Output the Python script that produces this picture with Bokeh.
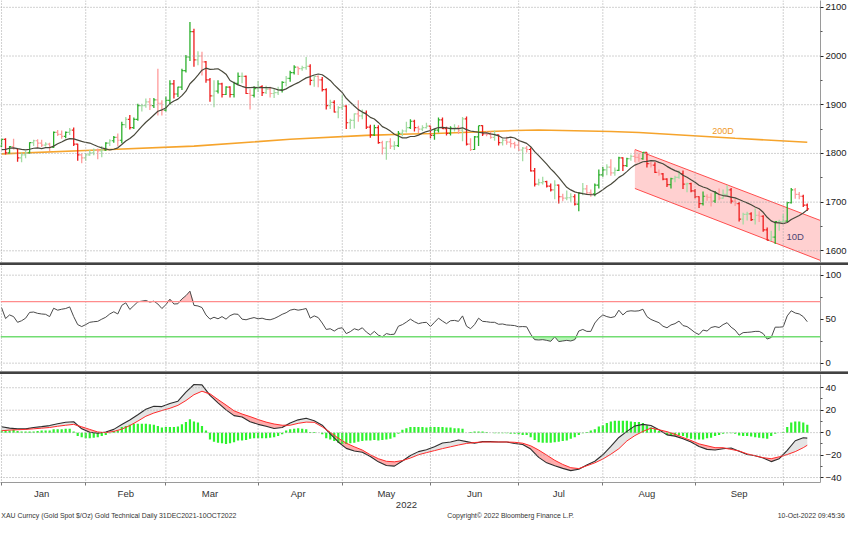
import numpy as np
import pandas as pd
from bokeh.plotting import figure
from bokeh.layouts import column
from bokeh.models import Range1d, FixedTicker, LinearAxis, Span, Grid, Div
from bokeh.embed import file_html
from bokeh.resources import INLINE
from bokeh.core.properties import value

FONT = "Liberation Sans"

# ---------------- data ----------------
dates = pd.bdate_range("2021-12-31", "2022-10-10")   # trading days (Dec 31 = day 0)

opens = [1815,
 1829, 1801, 1814, 1810, 1791, 1797, 1801, 1822, 1826, 1821, 1817, 1819, 1813, 1843, 1839, 1835, 1843, 1848, 1819, 1797, 1791,
 1797, 1801, 1807, 1805, 1807, 1821, 1826, 1833, 1827, 1859, 1870, 1853, 1870, 1898, 1898, 1906, 1898, 1910, 1903, 1889,
 1909, 1943, 1922, 1936, 1970, 1998, 2050, 1992, 2000, 1988, 1951, 1918, 1928, 1943, 1921, 1936, 1921, 1944, 1958, 1958, 1923, 1919, 1933,
 1937, 1925, 1932, 1923, 1925, 1931, 1946, 1954, 1966, 1977, 1974, 1976, 1979, 1950, 1958, 1951, 1931, 1898, 1905, 1885, 1894,
 1897, 1863, 1868, 1881, 1877, 1883, 1854, 1838, 1853, 1822, 1811, 1824, 1815, 1816, 1841, 1846, 1853, 1866, 1853, 1850, 1853, 1856,
 1837, 1848, 1869, 1851, 1841, 1852, 1853, 1848, 1871, 1819, 1808, 1834, 1857, 1840, 1839, 1833, 1838, 1822, 1827, 1823, 1820, 1817,
 1807, 1811, 1808, 1764, 1737, 1740, 1742, 1733, 1725, 1735, 1711, 1708, 1709, 1711, 1696, 1718, 1727, 1719, 1717, 1735, 1756,
 1766, 1772, 1760, 1765, 1791, 1775, 1789, 1794, 1792, 1789, 1802, 1779, 1776, 1761, 1758, 1747, 1736, 1748, 1751, 1758, 1737, 1738, 1723,
 1711, 1697, 1712, 1710, 1702, 1718, 1708, 1716, 1725, 1702, 1697, 1665, 1675, 1676, 1664, 1673, 1671, 1643, 1622, 1628, 1660, 1660,
 1661, 1699, 1725, 1716, 1712, 1694]

highs = [1830,
 1831, 1815, 1830, 1810, 1802, 1805, 1823, 1828, 1829, 1828, 1823, 1822, 1845, 1848, 1847, 1845, 1852, 1853, 1820, 1800, 1801,
 1807, 1810, 1810, 1815, 1823, 1829, 1836, 1841, 1865, 1875, 1879, 1874, 1902, 1902, 1913, 1914, 1914, 1974, 1909, 1917,
 1950, 1951, 1937, 1974, 2002, 2070, 2056, 2010, 2009, 1990, 1955, 1950, 1950, 1945, 1938, 1938, 1947, 1966, 1966, 1960, 1932, 1938, 1949,
 1940, 1939, 1937, 1933, 1937, 1948, 1959, 1970, 1981, 1978, 1980, 1998, 1983, 1959, 1960, 1957, 1934, 1910, 1909, 1897, 1920,
 1899, 1871, 1882, 1909, 1890, 1888, 1859, 1859, 1858, 1826, 1825, 1831, 1825, 1846, 1849, 1865, 1870, 1869, 1857, 1858, 1863, 1857,
 1850, 1874, 1874, 1855, 1856, 1860, 1858, 1875, 1876, 1831, 1836, 1857, 1858, 1846, 1845, 1847, 1839, 1830, 1834, 1830, 1824, 1829,
 1813, 1815, 1812, 1770, 1748, 1752, 1744, 1738, 1745, 1736, 1717, 1724, 1718, 1716, 1721, 1739, 1735, 1726, 1738, 1767, 1772,
 1778, 1788, 1771, 1793, 1792, 1791, 1798, 1807, 1800, 1803, 1802, 1783, 1782, 1767, 1760, 1749, 1750, 1754, 1765, 1765, 1740, 1740, 1727,
 1712, 1722, 1716, 1718, 1723, 1728, 1726, 1735, 1729, 1707, 1700, 1678, 1680, 1679, 1687, 1681, 1673, 1648, 1641, 1661, 1664, 1675,
 1701, 1729, 1729, 1721, 1715, 1697]

lows = [1813,
 1798, 1799, 1808, 1783, 1782, 1790, 1800, 1815, 1811, 1813, 1814, 1805, 1811, 1836, 1830, 1831, 1838, 1815, 1785, 1780, 1785,
 1795, 1796, 1788, 1792, 1805, 1815, 1822, 1814, 1821, 1852, 1849, 1850, 1867, 1886, 1894, 1889, 1893, 1878, 1878, 1886,
 1900, 1913, 1916, 1930, 1966, 1990, 1978, 1981, 1960, 1945, 1906, 1895, 1923, 1915, 1920, 1915, 1915, 1941, 1944, 1922, 1890, 1915, 1926,
 1918, 1922, 1915, 1914, 1920, 1925, 1938, 1947, 1962, 1961, 1970, 1972, 1940, 1937, 1936, 1927, 1890, 1891, 1884, 1872, 1889,
 1850, 1850, 1851, 1865, 1870, 1850, 1832, 1836, 1820, 1798, 1787, 1809, 1807, 1813, 1835, 1843, 1850, 1845, 1842, 1846, 1851, 1831,
 1828, 1843, 1850, 1837, 1837, 1845, 1840, 1825, 1816, 1805, 1807, 1815, 1836, 1835, 1830, 1826, 1816, 1816, 1818, 1812, 1810, 1805,
 1784, 1802, 1763, 1732, 1734, 1736, 1730, 1722, 1706, 1697, 1702, 1704, 1701, 1693, 1681, 1714, 1716, 1711, 1712, 1728, 1752,
 1755, 1754, 1754, 1764, 1764, 1772, 1785, 1782, 1783, 1787, 1771, 1771, 1760, 1754, 1745, 1731, 1728, 1741, 1748, 1727, 1720, 1720, 1708,
 1688, 1693, 1703, 1691, 1698, 1704, 1707, 1713, 1697, 1692, 1660, 1654, 1662, 1661, 1654, 1659, 1639, 1621, 1620, 1614, 1641, 1656,
 1659, 1697, 1707, 1706, 1690, 1682]

closes = [1829,
 1801, 1814, 1810, 1791, 1797, 1801, 1822, 1826, 1821, 1817, 1819, 1813, 1843, 1839, 1835, 1843, 1848, 1819, 1797, 1791, 1797,
 1801, 1807, 1805, 1807, 1821, 1826, 1833, 1827, 1859, 1870, 1853, 1870, 1898, 1898, 1906, 1898, 1910, 1903, 1889, 1909,
 1943, 1922, 1936, 1970, 1998, 2050, 1992, 2000, 1988, 1951, 1918, 1928, 1943, 1921, 1936, 1921, 1944, 1958, 1958, 1923, 1919, 1933, 1937,
 1925, 1932, 1923, 1925, 1931, 1946, 1954, 1966, 1977, 1974, 1976, 1979, 1950, 1958, 1951, 1931, 1898, 1905, 1885, 1894, 1897,
 1863, 1868, 1881, 1877, 1883, 1854, 1838, 1853, 1822, 1811, 1824, 1815, 1816, 1841, 1846, 1853, 1866, 1853, 1850, 1853, 1856, 1837,
 1848, 1869, 1851, 1841, 1852, 1853, 1848, 1871, 1819, 1808, 1834, 1857, 1840, 1839, 1833, 1838, 1822, 1827, 1823, 1820, 1817, 1807,
 1811, 1808, 1764, 1737, 1740, 1742, 1733, 1725, 1735, 1711, 1708, 1709, 1711, 1696, 1718, 1727, 1719, 1717, 1735, 1756, 1766,
 1772, 1760, 1765, 1791, 1775, 1789, 1794, 1792, 1789, 1802, 1779, 1776, 1761, 1758, 1747, 1736, 1748, 1751, 1758, 1737, 1738, 1723, 1711,
 1697, 1712, 1710, 1702, 1718, 1708, 1716, 1725, 1702, 1697, 1665, 1675, 1676, 1664, 1673, 1671, 1643, 1622, 1628, 1660, 1660, 1661,
 1699, 1725, 1716, 1712, 1694, 1686]

# closes of the 9 sessions before Dec 31 (warm-up of the 10-day average)
prior_closes = [1795, 1789, 1803, 1808, 1811, 1811, 1810, 1805, 1815]

# 200-day moving average
ma200_day = [0, 24, 48, 72, 91, 102, 108, 128, 134, 152, 159, 183, 201]
ma200_val = [1799, 1807, 1815, 1829, 1837, 1840, 1841, 1847, 1848, 1845, 1843, 1831, 1823]

# drawn down-trend channel
channel_day = [158, 205]
channel_top = [1808, 1660]
channel_bottom = [1728, 1578]

rsi_values = [
 63.2, 50.7, 54.8, 52.9, 46.4, 48.2, 51.1, 57.7, 58.1, 56.6,
 55.9, 55.5, 52.9, 62.4, 60.2, 61.3, 62.1, 63.9, 52.9, 43.8,
 41.6, 43.8, 46.4, 47.1, 47.5, 50.0, 52.2, 55.9, 58.4, 55.9,
 65.7, 68.6, 61.0, 65.4, 69.7, 70.5, 71.2, 69.4, 70.5, 67.2,
 62.1, 66.4, 72.7, 67.2, 67.5, 73.0, 76.7, 81.8, 65.7, 65.0,
 63.2, 54.8, 50.0, 52.2, 50.4, 52.9, 50.0, 54.0, 55.9, 55.5,
 50.0, 49.3, 50.7, 51.8, 50.4, 51.1, 49.7, 49.3, 50.7, 52.9,
 55.5, 57.3, 60.2, 61.3, 60.2, 61.0, 62.1, 51.1, 53.7, 51.8,
 45.6, 38.3, 39.1, 36.5, 39.4, 40.2, 33.6, 35.8, 39.1, 37.6,
 40.2, 35.4, 32.1, 36.1, 31.8, 29.9, 33.6, 32.5, 32.9, 42.0,
 43.8, 46.7, 50.0, 47.1, 44.9, 46.0, 46.4, 41.6, 46.4, 51.1,
 47.8, 44.9, 48.2, 48.6, 47.5, 53.7, 42.0, 39.1, 43.8, 51.1,
 47.5, 47.1, 46.4, 46.4, 44.2, 44.5, 43.4, 43.1, 42.7, 41.3,
 41.6, 41.3, 32.9, 26.7, 26.3, 26.7, 25.9, 24.8, 29.9, 24.5,
 25.2, 25.9, 25.2, 26.7, 36.5, 38.3, 36.1, 36.1, 45.6, 51.1,
 54.8, 52.9, 51.8, 52.9, 60.2, 54.8, 58.8, 59.5, 59.1, 59.5,
 61.3, 52.9, 49.7, 47.8, 46.0, 42.0, 40.2, 43.4, 44.9, 47.8,
 42.7, 41.6, 38.3, 34.7, 32.5, 37.6, 36.5, 40.5, 41.6, 40.5,
 43.8, 46.0, 40.9, 37.6, 31.8, 34.7, 35.0, 35.4, 36.1, 36.1,
 33.6, 27.4, 29.2, 40.9, 40.9, 41.3, 53.7, 59.5, 57.0, 55.9,
 52.9, 47.1]

macd_day = list(range(0, 201, 2)) + [201]
macd_values = [
 5.2, 4.0, 3.4, 3.4, 4.6, 5.4, 6.3, 8.0, 9.2, 9.7,
 3.4, 0.3, -0.6, 0.6, 2.9, 7.2, 11.2, 16.0, 20.9, 23.5,
 23.2, 26.0, 28.0, 36.1, 42.9, 42.6, 33.2, 26.6, 20.3, 15.2,
 14.0, 9.7, 7.4, 5.7, 3.7, 4.6, 8.6, 11.4, 12.9, 10.6,
 6.6, -1.1, -8.3, -14.0, -16.3, -17.5, -21.2, -26.0, -29.2, -29.8,
 -25.2, -20.3, -16.9, -15.2, -12.6, -9.2, -8.3, -6.6, -8.0, -9.4,
 -8.0, -8.0, -8.3, -8.3, -9.7, -10.6, -14.6, -22.0, -26.9, -29.5,
 -31.8, -33.8, -32.6, -28.9, -25.5, -19.7, -12.3, -4.3, 1.1, 6.0,
 7.4, 6.3, 2.6, -2.0, -3.1, -5.4, -8.3, -12.3, -14.9, -15.5,
 -14.3, -13.7, -16.6, -19.5, -20.6, -22.6, -25.8, -23.2, -15.7, -7.2,
 -4.6, -4.9]
signal_values = [
 1.7, 2.3, 2.6, 2.9, 3.4, 4.0, 4.6, 5.7, 6.6, 7.4,
 5.2, 2.9, 0.6, 0.0, 1.1, 3.1, 6.3, 10.3, 14.6, 17.5,
 19.7, 21.7, 24.3, 28.6, 33.8, 36.9, 34.6, 29.5, 24.6, 19.5,
 16.6, 14.3, 11.7, 9.4, 7.7, 6.6, 6.6, 8.3, 9.4, 9.2,
 5.2, 0.3, -4.9, -9.4, -12.6, -15.5, -19.7, -23.2, -25.5, -26.0,
 -24.9, -22.6, -19.7, -17.8, -16.0, -14.2, -12.6, -11.0, -9.6, -8.8,
 -8.3, -8.3, -8.3, -8.3, -8.6, -9.4, -11.7, -15.5, -20.0, -24.6,
 -28.3, -31.2, -32.0, -29.5, -26.9, -23.5, -19.2, -14.3, -7.4, -2.6,
 1.1, 4.0, 2.6, 0.9, -1.4, -4.3, -7.0, -10.0, -11.7, -13.4,
 -13.4, -14.9, -16.3, -18.9, -20.6, -22.3, -23.2, -21.5, -19.5, -16.9,
 -13.4, -11.2]
hist_values = [
 2, 2, 2, 2.5, 1.5, 1, 1, 1, 1, 1.5,
 2, 2, 2, 3, 3, 3, 3.5, 3.5, 1, -3,
 -4, -5, -5, -4.5, -4, -3, -2, -0.5, 1.5, 2,
 5, 6, 7, 8, 8, 8, 8, 7.5, 7, 6,
 4.5, 5, 5, 5, 5.5, 7.5, 9.5, 12, 10, 9,
 6, 2, -6, -8, -9, -9.5, -10, -9.5, -8.5, -7,
 -7, -6.5, -5.5, -5, -5, -5, -5, -4.5, -4, -3,
 -1.5, 2, 3, 3.5, 4, 3.5, 3, 0.5, 0.5, 0,
 -1.5, -5, -6, -7.5, -9, -10, -10, -9.5, -9, -8,
 -7.5, -7, -7, -6.5, -7, -6.5, -6, -5.5, -4, -1,
 2.5, 4, 5, 5, 5, 5, 4.5, 5, 5, 5,
 5, 4.5, 4.5, 4, 4, 3.5, 0, 0.5, 1, 1,
 1, 0.5, 0, -0.5, -0.5, -0.5, -0.5, -1, -1, -1.5,
 -2, -2, -4, -6.5, -8.5, -9, -9, -9, -8.5, -8,
 -7.5, -7, -5.5, -4, -2, -0.5, 0.5, 2, 3, 5.5,
 6.5, 8.5, 10, 10.5, 10.5, 10.5, 10.5, 10, 9.5, 9.5,
 8.5, 6.5, 4.5, 3.5, 1.5, 0, -2, -3, -2.5, -2.5,
 -3, -4.5, -5.5, -6, -6, -6, -5, -4.5, -3, -2,
 -1, -0.5, -0.5, -1, -2.5, -3, -3, -3.5, -4, -4.5,
 -5, -5.5, -3, -1, 0, 0.5, 5, 9, 10, 10,
 9, 7]

price_ticks = [1600, 1700, 1800, 1900, 2000, 2100]
price_minor = [1650, 1750, 1850, 1950, 2050]
rsi_ticks = [0, 50, 100]
rsi_minor = [25, 75]
macd_ticks = [-40, -20, 0, 20, 40]
macd_minor = [-30, -10, 10, 30]

footer_left = "XAU Curncy (Gold Spot   $/Oz) Gold Technical  Daily 31DEC2021-10OCT2022"
footer_mid = "Copyright\u00a9 2022 Bloomberg Finance L.P."
footer_right = "10-Oct-2022 09:45:36"

n = len(dates)
for arr in (opens, highs, lows, closes, rsi_values, hist_values):
    assert len(arr) == n, len(arr)
assert len(macd_values) == len(macd_day) == len(signal_values)

days = np.arange(n)
O = np.array(opens, float); H = np.array(highs, float)
L = np.array(lows, float); C = np.array(closes, float)

all_c = np.array(prior_closes + closes, float)
ma10 = pd.Series(all_c).rolling(10).mean().to_numpy()[len(prior_closes):]

up = C >= O
strong = np.abs(C - O) >= 0.5 * (H - L)
bar_color = np.where(up, np.where(strong, "#2cb02c", "#a3dca3"),
                     np.where(strong, "#ee1c1c", "#ff9b9b")).tolist()

month_end = [int(i) for i in range(n - 1) if dates[i].month != dates[i + 1].month]
month_centers = [int((a + b) // 2) for a, b in zip(month_end[:-1], month_end[1:])]
month_labels = [dates[b].strftime("%b") for b in month_end[1:]]

# ---------------- figures ----------------
FW = 820
RB = 28
GRID = "#a2a2a2"
xr = Range1d(-0.26, 204.3)


def panel(frame_h, yr, yt, ym, ygrid, xaxis=False):
    p = figure(frame_width=FW, frame_height=frame_h, x_range=xr, y_range=yr,
               toolbar_location=None, output_backend="svg",
               y_axis_location="right", x_axis_location="below" if xaxis else None,
               min_border_left=0, min_border_right=RB, min_border_top=0, min_border_bottom=0,
               outline_line_color=None, background_fill_color="white",
               border_fill_color="white")
    p.center = [c for c in p.center if not isinstance(c, Grid)]
    for b in month_end:
        p.add_layout(Span(location=b, dimension="height", line_color=GRID,
                          line_dash="1 2", line_width=1))
    for t in ygrid:
        p.add_layout(Span(location=t, dimension="width", line_color=GRID,
                          line_dash="1 2", line_width=1))
    ax = p.yaxis[0]
    ax.ticker = FixedTicker(ticks=yt, minor_ticks=ym)
    ax.axis_line_color = "#9a9a9a"
    ax.major_tick_out = 3
    ax.major_tick_in = 0
    ax.minor_tick_out = 2
    ax.minor_tick_in = 0
    ax.major_tick_line_color = "#222222"
    ax.minor_tick_line_color = "#555555"
    ax.major_label_standoff = 2
    ax.major_label_text_font = FONT
    ax.major_label_text_font_size = "9.5px"
    ax.major_label_text_color = "#222222"
    return p


def separator():
    return Div(text="", width=FW + RB, height=3, margin=(0, 0, 0, 0),
               styles={"background-color": "#424242", "border-top": "1px solid #8a8a8a"})


# price panel
p1 = panel(262, Range1d(1576, 2114), price_ticks, price_minor, price_ticks)
p1.varea(x=channel_day, y1=channel_bottom, y2=channel_top, fill_color="#ffc8c8", fill_alpha=0.85)
p1.line(channel_day, channel_top, line_color="#ff4d4d", line_width=1)
p1.line(channel_day, channel_bottom, line_color="#ff4d4d", line_width=1)
p1.line(ma200_day, ma200_val, line_color="#f6a42c", line_width=1.6)

bars = dict(x=days, xl=days - 0.45, xr=days + 0.45, o=O, h=H, l=L, c=C, col=bar_color)
p1.segment(x0="x", y0="l", x1="x", y1="h", line_color="col", line_width=1.3, source=bars)
p1.segment(x0="xl", y0="o", x1="x", y1="o", line_color="col", line_width=1.2, source=bars)
p1.segment(x0="x", y0="c", x1="xr", y1="c", line_color="col", line_width=1.2, source=bars)

p1.line(days, ma10, line_color="#48483a", line_width=1.2)
p1.text(x=[180], y=[1846], text=["200D"], text_font=value(FONT), text_font_size="9px",
        text_color="#f09a2a", text_align="center", text_baseline="middle")
p1.text(x=[198], y=[1629], text=["10D"], text_font=value(FONT), text_font_size="9.5px",
        text_color="#4f4673", text_align="center", text_baseline="middle")

# RSI panel
rsi = np.array(rsi_values)
p2 = panel(106, Range1d(-9.5, 111), rsi_ticks, rsi_minor, [0, 100])
p2.varea(x=days, y1=70, y2=np.maximum(rsi, 70), fill_color="#ffc0c0")
p2.varea(x=days, y1=np.minimum(rsi, 30), y2=30, fill_color="#b6f5b6")
p2.add_layout(Span(location=70, dimension="width", line_color="#ff8c8c", line_width=1.3))
p2.add_layout(Span(location=30, dimension="width", line_color="#72dd72", line_width=1.3))
p2.line(days, rsi, line_color="#4a4a4a", line_width=1)

# MACD panel
mv = np.array(macd_values)
sv = np.array(signal_values)
p3 = panel(108, Range1d(-44.4, 51.8), macd_ticks, macd_minor, macd_ticks, xaxis=True)
p3.varea(x=macd_day, y1=sv, y2=np.maximum(mv, sv), fill_color="#e4e4e4")
p3.varea(x=macd_day, y1=np.minimum(mv, sv), y2=sv, fill_color="#ffacac")
p3.vbar(x=days, top=hist_values, bottom=0, width=0.55, fill_color="#2ef22e", line_color=None)
p3.line(macd_day, mv, line_color="#2e2e2e", line_width=1.1)
p3.line(macd_day, sv, line_color="#ff2a2a", line_width=1)

xa = p3.xaxis[0]
xa.ticker = FixedTicker(ticks=month_centers, minor_ticks=month_end)
xa.major_label_overrides = {c: lab for c, lab in zip(month_centers, month_labels)}
xa.major_tick_line_color = None
xa.major_tick_out = 0
xa.minor_tick_out = 3
xa.minor_tick_in = 0
xa.minor_tick_line_color = "#777777"
xa.axis_line_color = "#9a9a9a"
xa.major_label_standoff = 2
xa.major_label_text_font = FONT
xa.major_label_text_font_size = "9.5px"
xa.major_label_text_color = "#333333"

year_axis = LinearAxis(ticker=FixedTicker(ticks=[101]), major_label_overrides={101: "2022"},
                       axis_line_color=None, major_tick_line_color=None,
                       minor_tick_line_color=None, major_tick_out=0, major_label_standoff=0,
                       major_label_text_font=FONT, major_label_text_font_size="9.5px",
                       major_label_text_color="#333333")
p3.add_layout(year_axis, "below")

foot_axis = LinearAxis(ticker=FixedTicker(ticks=[30, 127, 202]),
                       major_label_overrides={30: footer_left, 127: footer_mid, 202: footer_right},
                       axis_line_color=None, major_tick_line_color=None,
                       minor_tick_line_color=None, major_tick_out=0, major_label_standoff=1,
                       major_label_text_font=FONT, major_label_text_font_size="6.9px",
                       major_label_text_color="#333333")
p3.add_layout(foot_axis, "below")

layout = column(p1, separator(), p2, separator(), p3)
open("out.html", "w").write(file_html(layout, INLINE))
